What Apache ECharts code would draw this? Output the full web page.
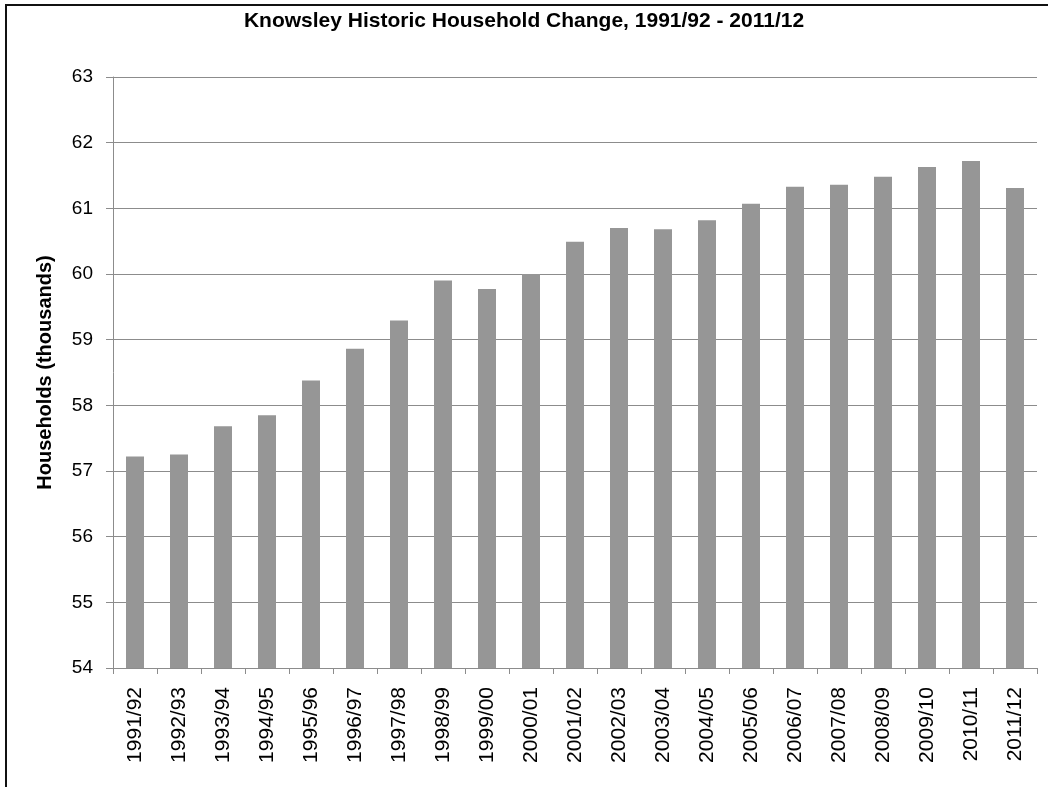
<!DOCTYPE html>
<html>
<head>
<meta charset="utf-8">
<title>Knowsley Historic Household Change</title>
<script src="https://cdn.jsdelivr.net/npm/echarts@6/dist/echarts.min.js"></script>
<style>
  html, body { margin: 0; padding: 0; background: #fff; }
  #chart { width: 1048px; height: 787px; position: relative; }
  #frame {
    position: absolute; left: 5px; top: 4px; width: 1100px; height: 900px;
    border-left: 2px solid #111; border-top: 2px solid #111;
    pointer-events: none; z-index: 10;
  }
</style>
</head>
<body>
<div id="chart"></div>
<div id="frame"></div>
<script>
// Financial years covered
const years = [
  '1991/92', '1992/93', '1993/94', '1994/95', '1995/96', '1996/97', '1997/98',
  '1998/99', '1999/00', '2000/01', '2001/02', '2002/03', '2003/04', '2004/05',
  '2005/06', '2006/07', '2007/08', '2008/09', '2009/10', '2010/11', '2011/12'
];

// Households (thousands) in each year
const households = [
  57.22, 57.25, 57.68, 57.85, 58.38, 58.86, 59.29,
  59.90, 59.77, 60.00, 60.49, 60.70, 60.68, 60.82,
  61.07, 61.33, 61.36, 61.48, 61.63, 61.72, 61.31
];

// Value axis range
const yMin = 54;
const yMax = 63;
const yStep = 1;

const chart = echarts.init(document.getElementById('chart'), null, { renderer: 'canvas' });

const grey = '#8c8c8c';
const font = 'Arial, "Liberation Sans", sans-serif';

chart.setOption({
  animation: false,
  backgroundColor: '#ffffff',
  title: {
    text: 'Knowsley Historic Household Change, 1991/92 - 2011/12',
    left: 'center',
    top: 6,
    textStyle: { fontFamily: font, fontWeight: 'bold', fontSize: 21, color: '#000' }
  },
  grid: { left: 113, right: 11, top: 77, bottom: 119, containLabel: false },
  xAxis: {
    type: 'category',
    data: years,
    axisLine: { lineStyle: { color: grey, width: 1 } },
    axisTick: { show: true, alignWithLabel: false, length: 6, lineStyle: { color: grey } },
    axisLabel: {
      rotate: 90, interval: 0, margin: 19,
      fontFamily: font, fontSize: 21, color: '#000'
    }
  },
  yAxis: {
    type: 'value',
    min: yMin, max: yMax, interval: yStep,
    name: 'Households (thousands)',
    nameLocation: 'middle',
    nameGap: 58,
    nameTextStyle: { fontFamily: font, fontWeight: 'bold', fontSize: 20, color: '#000' },
    axisLine: { show: true, lineStyle: { color: grey, width: 1 } },
    axisTick: { show: true, length: 7, lineStyle: { color: grey } },
    axisLabel: { margin: 20, fontFamily: font, fontSize: 19, color: '#000' },
    splitLine: { show: true, lineStyle: { color: grey, width: 1 } }
  },
  series: [{
    type: 'bar',
    data: households,
    barWidth: 18,
    itemStyle: { color: '#969696' }
  }]
});
</script>
</body>
</html>
